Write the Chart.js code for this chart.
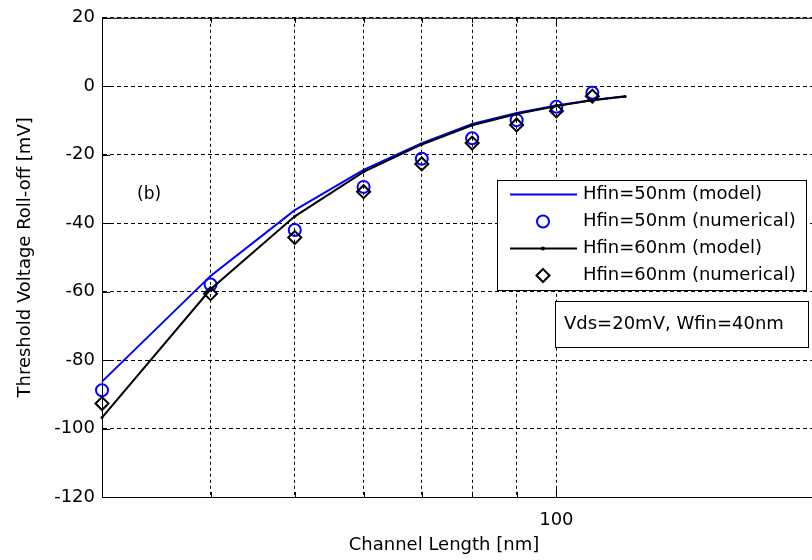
<!DOCTYPE html>
<html>
<head>
<meta charset="utf-8">
<script src="https://cdn.jsdelivr.net/npm/chart.js@4.4.0/dist/chart.umd.min.js"></script>
<style>
body{margin:0;background:#fff;overflow:hidden;}
#marco{width:812px;height:560px;overflow:hidden;position:relative;}
</style>
</head>
<body>
<div id="marco"><canvas id="grafica" width="971" height="560"></canvas></div>
<script>
// channel length [nm]
var longModelo = [30, 40, 50, 60, 70, 80, 90, 100, 110, 120];
var longNumerico = [30, 40, 50, 60, 70, 80, 90, 100, 110];

// roll-off [mV]
var hfin50Modelo = [-86.3, -55.4, -36.2, -24.4, -16.6, -11.0, -7.8, -5.6, -4.0, -2.9];
var hfin50Numerico = [-88.8, -57.9, -42.0, -29.4, -21.2, -15.2, -9.9, -6.0, -1.9];
var hfin60Modelo = [-96.8, -59.3, -38.0, -25.0, -17.0, -11.4, -8.1, -5.8, -4.1, -3.0];
var hfin60Numerico = [-92.7, -60.6, -44.2, -30.8, -22.7, -16.6, -11.3, -7.2, -2.9];

var etiquetas = ['Hfin=50nm (model)', 'Hfin=50nm (numerical)', 'Hfin=60nm (model)', 'Hfin=60nm (numerical)'];
var ticksX = [30, 40, 50, 60, 70, 80, 90, 100, 200, 300];
var etiquetasX = {100: '100'};
var ticksY = [20, 0, -20, -40, -60, -80, -100, -120];

var tituloX = 'Channel Length [nm]';
var tituloY = 'Threshold Voltage Roll-off [mV]';
var notaCondiciones = 'Vds=20mV, Wfin=40nm';
var notaPanel = '(b)';

var fuente = 'DejaVu Sans';
Chart.defaults.font.family = fuente;
Chart.defaults.color = '#000';

function puntos(xs, ys){
    return xs.map(function(x, i){ return {x: x, y: ys[i]}; });
}

/*extras estilo matlab: borde superior, ticks hacia adentro, titulo x, leyenda, notas*/
var extras = {
    id: 'extras',
    afterDraw: function(chart){
        var ctx = chart.ctx;
        var a = chart.chartArea;
        var sx = chart.scales.x;
        var sy = chart.scales.y;
        ctx.save();
        ctx.strokeStyle = '#000';
        ctx.lineWidth = 1;
        ctx.setLineDash([]);
        ctx.beginPath();
        ctx.moveTo(a.left, a.top + 0.5);
        ctx.lineTo(a.right, a.top + 0.5);
        ctx.stroke();
        // ticks
        ctx.beginPath();
        ticksY.forEach(function(v){
            var y = Math.round(sy.getPixelForValue(v)) + 0.5;
            ctx.moveTo(a.left, y);
            ctx.lineTo(a.left + 8, y);
        });
        ticksX.forEach(function(v){
            var x = Math.round(sx.getPixelForValue(v)) + 0.5;
            var l = etiquetasX[v] ? 8 : 5;
            ctx.moveTo(x, a.bottom);
            ctx.lineTo(x, a.bottom - l);
            ctx.moveTo(x, a.top);
            ctx.lineTo(x, a.top + l);
        });
        ctx.stroke();

        // titulo eje x
        ctx.fillStyle = '#000';
        ctx.font = '18px "' + fuente + '"';
        ctx.textAlign = 'center';
        ctx.textBaseline = 'middle';
        ctx.fillText(tituloX, 444, 545);

        // (b)
        ctx.font = '17px "' + fuente + '"';
        ctx.textAlign = 'left';
        ctx.fillText(notaPanel, 137, 195);

        // leyenda
        var ds = chart.data.datasets;
        ctx.fillStyle = '#fff';
        ctx.fillRect(497, 180, 309, 110);
        ctx.strokeRect(497.5, 180.5, 309, 110);
        ctx.font = '18px "' + fuente + '"';
        for(var i = 0; i < ds.length; i++){
            var y = 194.5 + i * 27;
            var d = ds[i];
            ctx.strokeStyle = d.borderColor;
            ctx.fillStyle = d.borderColor;
            ctx.lineWidth = 2;
            if(d.showLine){
                ctx.beginPath();
                ctx.moveTo(510, y);
                ctx.lineTo(577, y);
                ctx.stroke();
                if(d.pointRadius > 0){
                    ctx.beginPath();
                    ctx.arc(543, y, d.pointRadius + 0.5, 0, Math.PI * 2);
                    ctx.fill();
                }
            }else if(d.pointStyle == 'rectRot'){
                var r = d.pointRadius;
                ctx.beginPath();
                ctx.moveTo(543 - r, y);
                ctx.lineTo(543, y - r);
                ctx.lineTo(543 + r, y);
                ctx.lineTo(543, y + r);
                ctx.closePath();
                ctx.stroke();
            }else{
                ctx.beginPath();
                ctx.arc(543, y, d.pointRadius, 0, Math.PI * 2);
                ctx.stroke();
            }
            ctx.fillStyle = '#000';
            ctx.fillText(d.label, 583, y);
        }

        // caja condiciones
        ctx.lineWidth = 1;
        ctx.strokeStyle = '#000';
        ctx.fillStyle = '#fff';
        ctx.fillRect(555, 301, 253, 46);
        ctx.strokeRect(555.5, 301.5, 253, 46);
        ctx.fillStyle = '#000';
        ctx.fillText(notaCondiciones, 564, 324);
        ctx.restore();
    }
};

var ctx = document.getElementById('grafica').getContext('2d');
var chart = new Chart(ctx, {
    type: 'scatter',
    data: {
        datasets: [{
            label: etiquetas[0],
            data: puntos(longModelo, hfin50Modelo),
            showLine: true,
            borderColor: '#0000ff',
            borderWidth: 2,
            pointRadius: 0,
            order: 4,
            clip: false
        },{
            label: etiquetas[1],
            data: puntos(longNumerico, hfin50Numerico),
            showLine: false,
            borderColor: '#0000ff',
            backgroundColor: 'rgba(0,0,0,0)',
            pointStyle: 'circle',
            pointRadius: 6,
            pointBorderWidth: 2,
            order: 3,
            clip: false
        },{
            label: etiquetas[2],
            data: puntos(longModelo, hfin60Modelo),
            showLine: true,
            borderColor: '#000000',
            backgroundColor: '#000000',
            borderWidth: 2,
            pointRadius: 1.5,
            pointBorderWidth: 0,
            order: 2,
            clip: false
        },{
            label: etiquetas[3],
            data: puntos(longNumerico, hfin60Numerico),
            showLine: false,
            borderColor: '#000000',
            backgroundColor: 'rgba(0,0,0,0)',
            pointStyle: 'rectRot',
            pointRadius: 6.5,
            pointBorderWidth: 2,
            order: 1,
            clip: false
        }]
    },
    options: {
        responsive: false,
        animation: false,
        events: [],
        layout: {autoPadding: false, padding: {top: 17, right: 0, bottom: 0, left: 0}},
        plugins: {legend: {display: false}, tooltip: {enabled: false}},
        scales: {
            x: {
                type: 'logarithmic',
                min: 30,
                max: 300,
                afterBuildTicks: function(s){ s.ticks = ticksX.map(function(v){ return {value: v}; }); },
                afterFit: function(s){ s.height = 63; s.paddingLeft = 0; s.paddingRight = 0; },
                ticks: {
                    autoSkip: false,
                    maxRotation: 0,
                    padding: 13,
                    font: {size: 18},
                    callback: function(v){ return etiquetasX[v] || ''; }
                },
                grid: {color: '#000', lineWidth: 1, drawTicks: false},
                border: {color: '#000', width: 1, dash: [3, 3]}
            },
            y: {
                min: -120,
                max: 20,
                afterBuildTicks: function(s){ s.ticks = ticksY.map(function(v){ return {value: v}; }); },
                afterFit: function(s){ s.width = 102; },
                ticks: {padding: 7, font: {size: 18}},
                grid: {color: '#000', lineWidth: 1, drawTicks: false},
                border: {color: '#000', width: 1, dash: [4, 3]},
                title: {display: true, text: tituloY, font: {size: 18}, padding: {top: 15, bottom: 0}}
            }
        }
    },
    plugins: [extras]
});
</script>
</body>
</html>
